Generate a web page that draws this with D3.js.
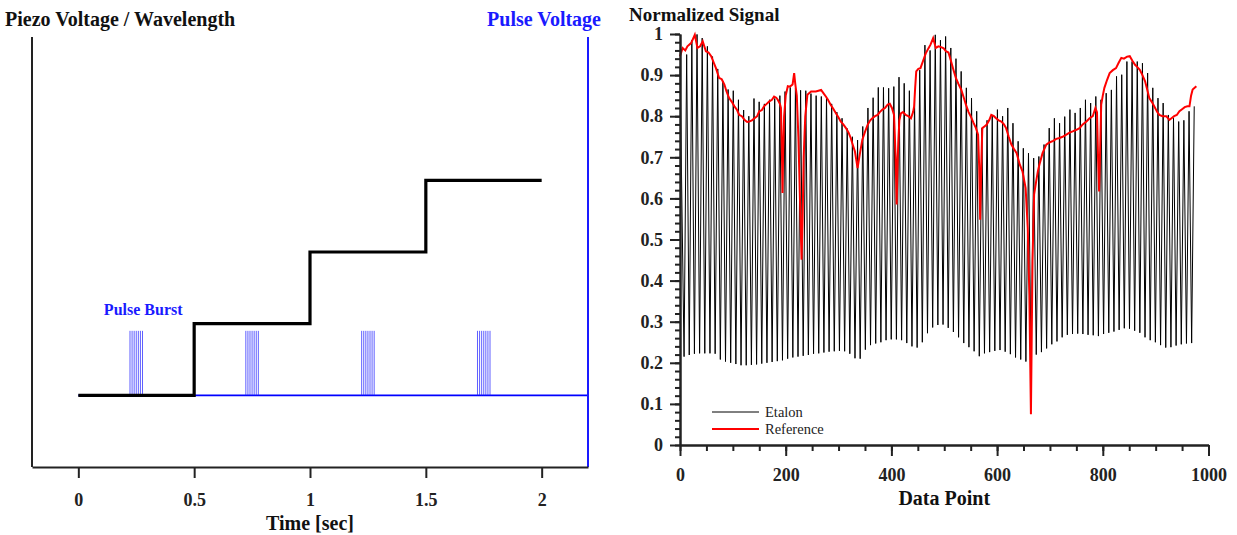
<!DOCTYPE html>
<html>
<head>
<meta charset="utf-8">
<script src="https://cdn.jsdelivr.net/npm/d3@7"></script>
<style>
  body { margin: 0; background: #fff; }
  svg { display: block; font-family: "Liberation Serif", "Times New Roman", serif; }
  .axis path, .axis line { stroke: #222; }
  .axis text { fill: #222; font-weight: bold; font-family: "Liberation Serif", serif; }
</style>
</head>
<body>
<div id="chart"></div>
<script>
// ---- left panel data ----
const stepTimes  = [0, 0.5, 1, 1.5, 2];
const stepLevels = [1, 2, 3, 4, 4];
const timeTicks  = [0, 0.5, 1, 1.5, 2];
const burstCenters = [0.25, 0.75, 1.25, 1.75];
const burstOffsets = [-0.027, -0.018, -0.009, 0, 0.009, 0.018, 0.027];
const pulseBase = 1;
const pulseHigh = 1.9;

// ---- right panel data ----
const etalonStartValue = 0.92;
const fringeFirstTrough = 7.7;
const fringePeriod = 9.8;
const etalonTroughs = [
  0.215, 0.219, 0.222, 0.223, 0.223, 0.223, 0.222, 0.208, 0.203, 0.200,
  0.197, 0.194, 0.194, 0.195, 0.196, 0.198, 0.200, 0.202, 0.204, 0.206,
  0.210, 0.213, 0.215, 0.217, 0.219, 0.222, 0.223, 0.225, 0.227, 0.228,
  0.229, 0.228, 0.222, 0.211, 0.210, 0.232, 0.243, 0.247, 0.250, 0.255,
  0.257, 0.257, 0.255, 0.248, 0.240, 0.237, 0.250, 0.272, 0.286, 0.292,
  0.293, 0.285, 0.275, 0.262, 0.248, 0.238, 0.228, 0.216, 0.223, 0.226,
  0.229, 0.231, 0.227, 0.221, 0.213, 0.208, 0.203, 0.206, 0.220, 0.226,
  0.235, 0.245, 0.252, 0.262, 0.268, 0.270, 0.271, 0.270, 0.268, 0.267,
  0.265, 0.270, 0.273, 0.276, 0.280, 0.284, 0.283, 0.278, 0.273, 0.262,
  0.255, 0.250, 0.243, 0.237, 0.238, 0.242, 0.245, 0.247, 0.248
];
const etalonPeaks = [
  0.950, 0.985, 0.999, 0.990, 0.970, 0.945, 0.915, 0.885, 0.865, 0.862,
  0.840, 0.815, 0.800, 0.843, 0.835, 0.830, 0.840, 0.843, 0.850, 0.860,
  0.870, 0.868, 0.863, 0.862, 0.855, 0.850, 0.848, 0.847, 0.830, 0.810,
  0.795, 0.770, 0.750, 0.742, 0.775, 0.820, 0.845, 0.870, 0.870, 0.868,
  0.872, 0.895, 0.880, 0.862, 0.840, 0.912, 0.973, 0.960, 0.998, 0.985,
  0.994, 0.966, 0.940, 0.909, 0.869, 0.844, 0.812, 0.771, 0.790, 0.803,
  0.816, 0.800, 0.820, 0.783, 0.739, 0.722, 0.710, 0.698, 0.702, 0.731,
  0.771, 0.795, 0.783, 0.799, 0.816, 0.808, 0.820, 0.840, 0.832, 0.848,
  0.840, 0.856, 0.864, 0.897, 0.901, 0.933, 0.933, 0.933, 0.929, 0.905,
  0.869, 0.844, 0.832, 0.803, 0.795, 0.787, 0.790, 0.812, 0.824
];

const refX = [
  0, 5, 10, 14, 21, 28, 33, 38, 43, 49, 54, 59, 64, 68, 74, 79, 84, 88, 93, 98,
  103, 108, 112, 117, 122, 127, 131, 136, 141, 146, 150, 155, 159, 164, 169, 174, 178, 182, 185, 189,
  191, 193, 194, 195, 197, 200, 204, 208, 213, 216, 218, 221, 224, 227, 230, 232, 234, 237, 241, 248,
  257, 262, 267, 272, 276, 280, 285, 290, 295, 300, 304, 309, 314, 319, 323, 327, 331, 334, 336, 338,
  340, 345, 350, 355, 360, 364, 369, 374, 378, 383, 388, 393, 397, 401, 405, 408, 410, 412, 415, 418,
  422, 427, 432, 437, 441, 443, 445, 447, 451, 455, 460, 465, 470, 474, 479, 484, 489, 494, 499, 503,
  508, 513, 518, 522, 527, 532, 537, 541, 546, 550, 555, 560, 564, 566, 568, 570, 572, 576, 580, 585,
  589, 594, 598, 603, 608, 613, 617, 622, 627, 632, 637, 643, 648, 654, 658, 661, 664, 667, 670, 674,
  677, 680, 686, 693, 699, 706, 712, 718, 724, 731, 737, 743, 750, 756, 762, 769, 775, 781, 786, 789,
  791, 793, 795, 797, 800, 803, 808, 813, 819, 825, 830, 835, 840, 846, 851, 856, 861, 865, 870, 875,
  880, 884, 888, 894, 899, 903, 907, 913, 920, 926, 930, 935, 940, 945, 950, 955, 960, 964, 967, 970,
  977
];
const refY = [
  0.946, 0.966, 0.960, 0.970, 0.978, 0.998, 0.966, 0.970, 0.982, 0.958, 0.955, 0.946, 0.930, 0.917, 0.893, 0.890, 0.877, 0.860, 0.844, 0.835,
  0.824, 0.815, 0.803, 0.800, 0.791, 0.786, 0.787, 0.790, 0.795, 0.800, 0.812, 0.815, 0.824, 0.830, 0.836, 0.840, 0.848, 0.845, 0.840, 0.830,
  0.820, 0.700, 0.613, 0.700, 0.800, 0.850, 0.873, 0.872, 0.877, 0.905, 0.880, 0.850, 0.750, 0.600, 0.451, 0.550, 0.700, 0.800, 0.852, 0.860,
  0.860, 0.862, 0.864, 0.855, 0.848, 0.840, 0.828, 0.818, 0.807, 0.797, 0.787, 0.780, 0.771, 0.760, 0.747, 0.730, 0.714, 0.690, 0.674, 0.690,
  0.706, 0.743, 0.762, 0.779, 0.790, 0.795, 0.800, 0.803, 0.810, 0.816, 0.820, 0.828, 0.830, 0.820, 0.803, 0.700, 0.585, 0.700, 0.790, 0.807,
  0.810, 0.803, 0.800, 0.795, 0.810, 0.824, 0.870, 0.909, 0.915, 0.917, 0.935, 0.953, 0.965, 0.974, 0.990, 0.966, 0.970, 0.968, 0.965, 0.958,
  0.955, 0.933, 0.910, 0.893, 0.878, 0.865, 0.845, 0.828, 0.810, 0.800, 0.785, 0.771, 0.755, 0.680, 0.548, 0.680, 0.771, 0.775, 0.779, 0.790,
  0.803, 0.800, 0.795, 0.790, 0.787, 0.780, 0.771, 0.750, 0.731, 0.720, 0.710, 0.682, 0.666, 0.625, 0.528, 0.366, 0.075, 0.447, 0.609, 0.642,
  0.665, 0.682, 0.710, 0.731, 0.736, 0.740, 0.745, 0.747, 0.750, 0.755, 0.760, 0.763, 0.767, 0.771, 0.780, 0.787, 0.795, 0.800, 0.820, 0.810,
  0.700, 0.617, 0.720, 0.828, 0.850, 0.869, 0.888, 0.905, 0.912, 0.917, 0.930, 0.942, 0.940, 0.945, 0.946, 0.935, 0.925, 0.920, 0.913, 0.900,
  0.885, 0.865, 0.844, 0.832, 0.820, 0.810, 0.803, 0.800, 0.800, 0.791, 0.795, 0.800, 0.803, 0.812, 0.817, 0.822, 0.824, 0.824, 0.850, 0.865,
  0.873
];
const signalTicks = [0, 0.1, 0.2, 0.3, 0.4, 0.5, 0.6, 0.7, 0.8, 0.9, 1];
const signalMinor = d3.range(0, 51).map(i => i / 50);
const pointTicks  = [0, 200, 400, 600, 800, 1000];
const pointMinor  = d3.range(0, 21).map(i => i * 50);

const W = 1237, H = 535;
const font = "Liberation Serif, Times New Roman, serif";

const svg = d3.select("#chart").append("svg")
  .attr("width", W)
  .attr("height", H);

// ================= left panel =================
const xL = d3.scaleLinear().domain([-0.2, 2.2]).range([32, 588]);
const yL = d3.scaleLinear().domain([0, 6]).range([467, 37]);
const yP = d3.scaleLinear().domain([0, 6]).range([467, 37]);

const left = svg.append("g");

// pulses (blue) under the staircase
left.append("line")
  .attr("x1", xL(0)).attr("x2", xL(2.2))
  .attr("y1", yP(pulseBase)).attr("y2", yP(pulseBase))
  .attr("stroke", "#0000ff")
  .attr("stroke-width", 1.6);

const pulses = [];
burstCenters.forEach(c => burstOffsets.forEach(o => pulses.push(c + o)));
left.selectAll("line.pulse")
  .data(pulses)
  .enter().append("line")
    .attr("class", "pulse")
    .attr("x1", d => xL(d)).attr("x2", d => xL(d))
    .attr("y1", yP(pulseBase)).attr("y2", yP(pulseHigh))
    .attr("stroke", "#2a2aff")
    .attr("stroke-opacity", 0.75)
    .attr("stroke-width", 1);

// staircase
const stepLine = d3.line()
  .x((d, i) => xL(stepTimes[i]))
  .y(d => yL(d))
  .curve(d3.curveStepAfter);
left.append("path")
  .attr("d", stepLine(stepLevels))
  .attr("fill", "none")
  .attr("stroke", "#000")
  .attr("stroke-width", 3.2);

// frame
left.append("line")
  .attr("x1", xL(-0.2)).attr("x2", xL(-0.2))
  .attr("y1", yL(6)).attr("y2", yL(0))
  .attr("stroke", "#222").attr("stroke-width", 2);
left.append("line")
  .attr("x1", xL(2.2)).attr("x2", xL(2.2))
  .attr("y1", yP(6)).attr("y2", yP(0))
  .attr("stroke", "#1a1aff").attr("stroke-width", 2);

const xAxisL = d3.axisBottom(xL)
  .tickValues(timeTicks)
  .tickSize(11)
  .tickSizeOuter(0)
  .tickPadding(15)
  .tickFormat(d3.format("~g"));
left.append("g")
  .attr("class", "axis")
  .attr("transform", "translate(0," + yL(0) + ")")
  .call(xAxisL)
  .call(g => g.selectAll("path, line").attr("stroke-width", 2))
  .call(g => g.selectAll("text").attr("font-size", 18));

left.append("text")
  .attr("x", 5).attr("y", 26)
  .attr("font-size", 20).attr("font-weight", "bold")
  .attr("fill", "#111")
  .text("Piezo Voltage / Wavelength");

left.append("text")
  .attr("x", 601).attr("y", 26)
  .attr("text-anchor", "end")
  .attr("font-size", 20).attr("font-weight", "bold")
  .attr("fill", "#1a1aff")
  .text("Pulse Voltage");

left.append("text")
  .attr("x", xL(0.28)).attr("y", 315)
  .attr("text-anchor", "middle")
  .attr("font-size", 16).attr("font-weight", "bold")
  .attr("fill", "#1a1aff")
  .text("Pulse Burst");

left.append("text")
  .attr("x", xL(1)).attr("y", 530)
  .attr("text-anchor", "middle")
  .attr("font-size", 20).attr("font-weight", "bold")
  .attr("fill", "#111")
  .text("Time [sec]");

// ================= right panel =================
const xR = d3.scaleLinear().domain([0, 1000]).range([680, 1208.5]);
const yR = d3.scaleLinear().domain([0, 1]).range([445, 34]);

const right = svg.append("g");

// etalon: start point, then trough / peak for each fringe
const etalon = [[0, etalonStartValue]];
etalonTroughs.forEach((t, k) => {
  etalon.push([fringeFirstTrough + k * fringePeriod, t]);
  etalon.push([fringeFirstTrough + (k + 0.5) * fringePeriod, etalonPeaks[k]]);
});

const lineR = d3.line()
  .x(d => xR(d[0]))
  .y(d => yR(d[1]));

right.append("path")
  .attr("d", lineR(etalon))
  .attr("fill", "none")
  .attr("stroke", "#000")
  .attr("stroke-width", 1)
  .attr("stroke-linejoin", "miter");

right.append("path")
  .attr("d", lineR(refX.map((x, i) => [x, refY[i]])))
  .attr("fill", "none")
  .attr("stroke", "#ff0000")
  .attr("stroke-width", 2);

// axes
const yMinor = d3.axisLeft(yR).tickValues(signalMinor).tickSize(5).tickSizeOuter(0).tickFormat("");
right.append("g")
  .attr("class", "axis")
  .attr("transform", "translate(" + xR(0) + ",0)")
  .call(yMinor)
  .call(g => g.selectAll("path, line").attr("stroke-width", 2));

const yMajor = d3.axisLeft(yR).tickValues(signalTicks).tickSize(10).tickSizeOuter(0)
  .tickPadding(7).tickFormat(d3.format("~g"));
right.append("g")
  .attr("class", "axis")
  .attr("transform", "translate(" + xR(0) + ",0)")
  .call(yMajor)
  .call(g => g.selectAll("path, line").attr("stroke-width", 2))
  .call(g => g.selectAll("text").attr("font-size", 18));

const xMinor = d3.axisBottom(xR).tickValues(pointMinor).tickSize(6).tickSizeOuter(0).tickFormat("");
right.append("g")
  .attr("class", "axis")
  .attr("transform", "translate(0," + yR(0) + ")")
  .call(xMinor)
  .call(g => g.selectAll("path, line").attr("stroke-width", 2));

const xMajor = d3.axisBottom(xR).tickValues(pointTicks).tickSize(11).tickSizeOuter(0)
  .tickPadding(12).tickFormat(d3.format("~g"));
right.append("g")
  .attr("class", "axis")
  .attr("transform", "translate(0," + yR(0) + ")")
  .call(xMajor)
  .call(g => g.selectAll("path, line").attr("stroke-width", 2))
  .call(g => g.selectAll("text").attr("font-size", 18));

right.append("text")
  .attr("x", 629).attr("y", 21)
  .attr("font-size", 19).attr("font-weight", "bold")
  .attr("fill", "#111")
  .text("Normalized Signal");

right.append("text")
  .attr("x", (xR(0) + xR(1000)) / 2).attr("y", 505)
  .attr("text-anchor", "middle")
  .attr("font-size", 20).attr("font-weight", "bold")
  .attr("fill", "#111")
  .text("Data Point");

// legend
const legendItems = [
  { name: "Etalon", color: "#000", width: 1 },
  { name: "Reference", color: "#ff0000", width: 2 }
];
const legend = right.append("g")
  .attr("transform", "translate(712,412)");
legendItems.forEach((item, i) => {
  const row = legend.append("g").attr("transform", "translate(0," + (i * 17) + ")");
  row.append("line")
    .attr("x1", 0).attr("x2", 47)
    .attr("stroke", item.color)
    .attr("stroke-width", item.width);
  row.append("text")
    .attr("x", 53).attr("y", 5)
    .attr("font-size", 14.5)
    .attr("fill", "#222")
    .text(item.name);
});
</script>
</body>
</html>
